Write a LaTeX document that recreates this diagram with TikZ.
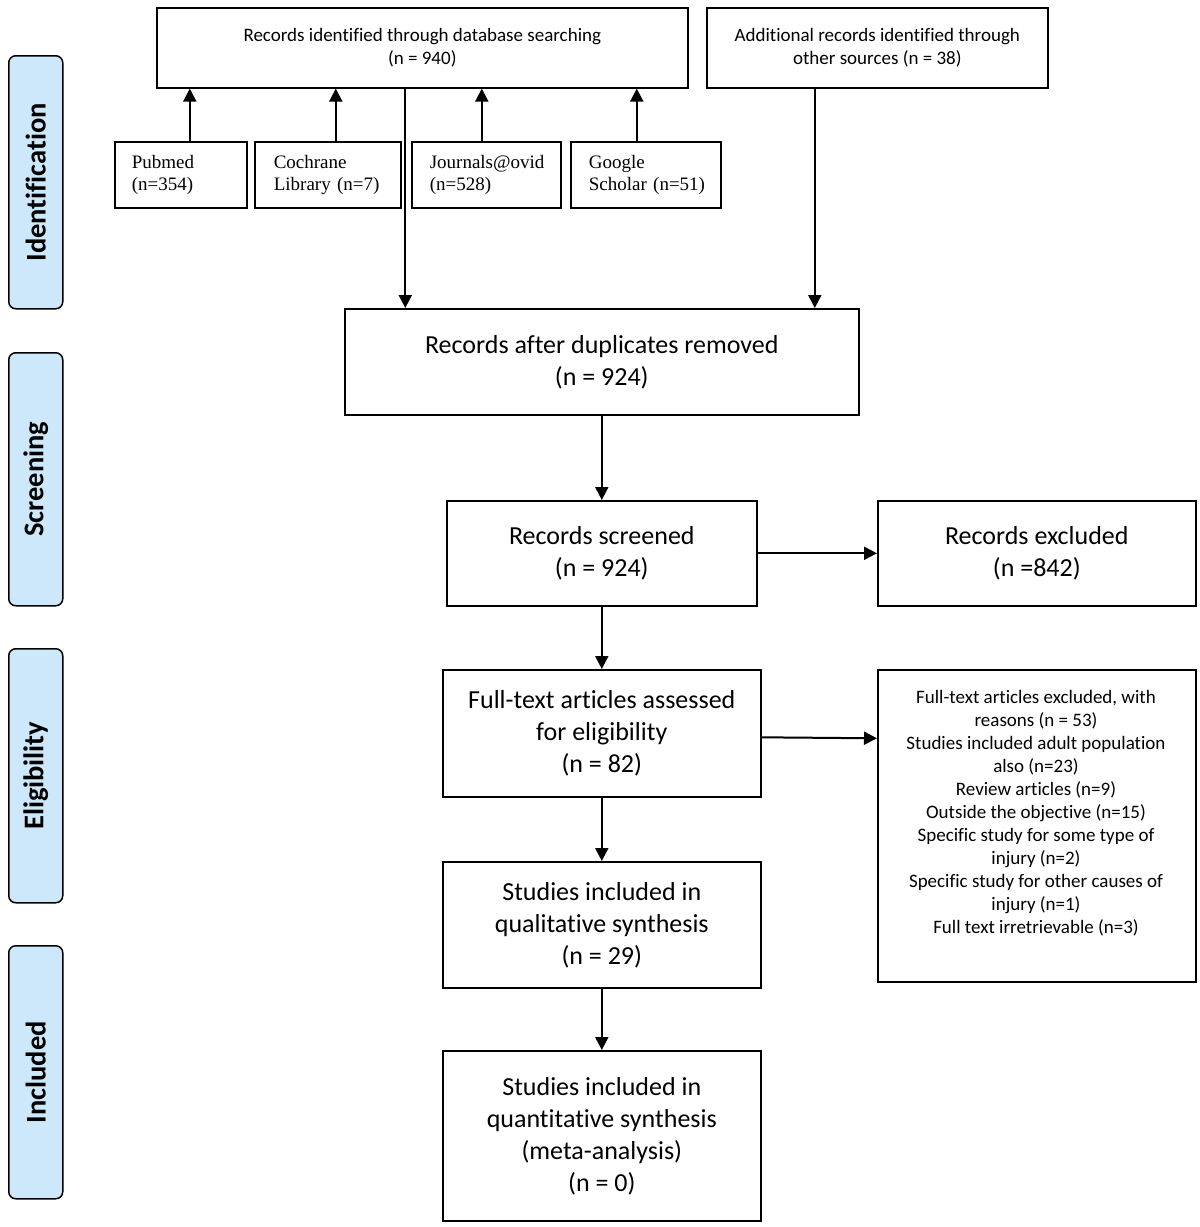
\documentclass[tikz,border=0pt]{standalone}
\usepackage{fontspec}
\setmainfont{Carlito}[Ligatures=NoCommon]
\newfontfamily\timesf{Liberation Serif}
\usetikzlibrary{arrows.meta}
\definecolor{phasefill}{HTML}{CDE8FB}
\begin{document}
\begin{tikzpicture}[x=1pt,y=-1pt,
 box/.style={draw, line width=1.6pt, inner sep=0pt, anchor=north west, align=center},
 big/.style={font=\fontsize{26}{32}\selectfont},
 small/.style={font=\fontsize{19}{23}\selectfont},
 src/.style={draw, line width=1.6pt, inner sep=0pt, anchor=north west, align=left, minimum height=66pt, font=\timesf\fontsize{19}{22}\selectfont},
 phase/.style={draw, line width=1.5pt, rounded corners=7pt, fill=phasefill, anchor=north west, inner sep=0pt, minimum width=54pt},
 phasetxt/.style={rotate=90, font=\bfseries\fontsize{28.5}{32}\selectfont},
 arr/.style={line width=2pt, -{Triangle[length=13pt,width=13pt]}},
]
\useasboundingbox (0,0) rectangle (1200,1227);

% phase bars
\node[phase, minimum height=253pt] (p1) at (8,55) {};
\node[phasetxt] (p1t) at (p1.center) {Identification};
\node[phase, minimum height=253pt] (p2) at (8,352) {};
\node[phasetxt] (p2t) at (p2.center) {Screening};
\node[phase, minimum height=254pt] (p3) at (8,648) {};
\node[phasetxt] (p3t) at (p3.center) {Eligibility};
\node[phase, minimum height=253pt] (p4) at (8,945) {};
\node[phasetxt] (p4t) at (p4.center) {Included};

% identification
\node[box, small, minimum width=531pt, minimum height=80pt] (db) at (156,7)
  {Records identified through database searching\\(n = 940)};
\node[box, small, minimum width=341pt, minimum height=80pt] (add) at (706,7)
  {Additional records identified through\\other sources (n = 38)};

\node[src, minimum width=132pt, text width=98pt] (pub) at (114,141) {Pubmed\\(n=354)};
\node[src, minimum width=146pt, text width=108pt] (coch) at (254,141) {Cochrane\\Library~(n=7)};
\node[src, minimum width=149pt, text width=113pt] (jour) at (411,141) {Journals@ovid\\(n=528)};
\node[src, minimum width=150pt, text width=114pt] (goog) at (570,141) {Google\\Scholar~(n=51)};

\draw[arr] ([xshift=9pt]pub.north) -- ([xshift=9pt]pub.north |- db.south);
\draw[arr] ([xshift=8pt]coch.north) -- ([xshift=8pt]coch.north |- db.south);
\draw[arr] ([xshift=-4.5pt]jour.north) -- ([xshift=-4.5pt]jour.north |- db.south);
\draw[arr] ([xshift=-9pt]goog.north) -- ([xshift=-9pt]goog.north |- db.south);

% main flow
\node[box, big, minimum width=514pt, minimum height=106pt] (dup) at (344,308)
  {Records after duplicates removed\\(n = 924)};
\draw[arr] ([xshift=-17pt]db.south) -- ([xshift=-17pt]db.south |- dup.north);
\draw[arr] ([xshift=-62.5pt]add.south) -- ([xshift=-62.5pt]add.south |- dup.north);

\node[box, big, minimum width=310pt, minimum height=105pt] (scr) at (446,500)
  {Records screened\\(n = 924)};
\node[box, big, minimum width=318pt, minimum height=105pt] (exc) at (877,500)
  {Records excluded\\(n =842)};
\draw[arr] (dup.south) -- (scr.north);
\draw[arr] (scr.east) -- (exc.west);

\node[box, big, minimum width=318pt, minimum height=127pt] (ft) at (442,669)
  {Full-text articles assessed\\for eligibility\\(n = 82)};
\node[box, minimum width=318pt, minimum height=312pt] (ftx) at (877,669) {};
\node[small, align=center] (ftxt) at (1036,813)
  {Full-text articles excluded, with\\reasons (n = 53)\\Studies included adult population\\also (n=23)\\Review articles (n=9)\\Outside the objective (n=15)\\Specific study for some type of\\injury (n=2)\\Specific study for other causes of\\injury (n=1)\\Full text irretrievable (n=3)};
\draw[arr] (scr.south) -- (ft.north);
\draw[arr] ([yshift=-4pt]ft.east) -- ([yshift=-5pt]ft.east -| ftx.west);

\node[box, big, minimum width=318pt, minimum height=126pt] (qual) at (442,861)
  {Studies included in\\qualitative synthesis\\(n = 29)};
\node[box, big, minimum width=318pt, minimum height=170pt] (quant) at (442,1050)
  {Studies included in\\quantitative synthesis\\(meta-analysis)\\(n = 0)};
\draw[arr] (ft.south) -- (qual.north);
\draw[arr] (qual.south) -- (quant.north);
\end{tikzpicture}
\end{document}
